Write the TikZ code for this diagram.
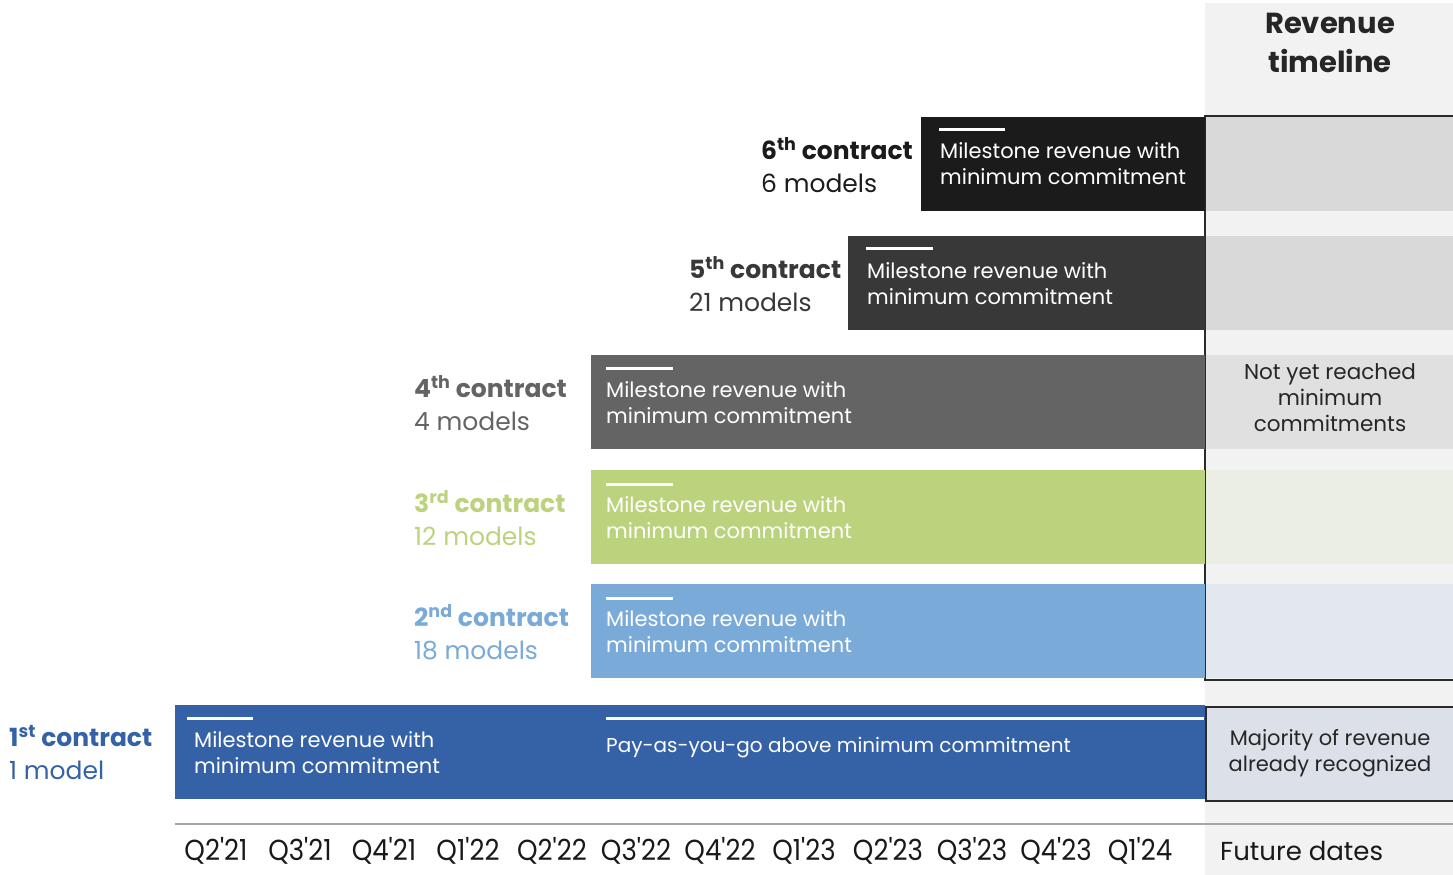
\documentclass[tikz,border=0pt]{standalone}
\usepackage{fontspec}
\setmainfont{Poppins}
\newfontfamily\narrowfont[FakeStretch=0.9]{Poppins}
\begin{document}
\definecolor{cA}{HTML}{1B1B1B}
\definecolor{cB}{HTML}{383838}
\definecolor{cC}{HTML}{646464}
\definecolor{cD}{HTML}{BCD37E}
\definecolor{cE}{HTML}{7AAAD8}
\definecolor{cF}{HTML}{3562A7}
\definecolor{colbg}{HTML}{F2F2F2}
\definecolor{bandgray}{HTML}{D9D9D9}
\definecolor{bandmid}{HTML}{E0E0E0}
\definecolor{bandgreen}{HTML}{EBEEE4}
\definecolor{bandblue}{HTML}{E3E8F0}
\definecolor{donebox}{HTML}{DCE0E8}
\definecolor{frame}{HTML}{2B2B2B}
\definecolor{axis}{HTML}{A6A6A6}
\newcommand{\ap}{\symbol{39}}
\begin{tikzpicture}[x=1pt,y=-1pt,
  bar/.style={anchor=north west,minimum height=94pt,inner sep=0pt,draw=none},
  bartext/.style={anchor=west,align=left,text=white,font=\fontsize{21}{26}\selectfont,inner sep=0pt},
  tick/.style={draw=white,line width=3.2pt},
  lbl/.style={anchor=west,align=left,font=\fontsize{25}{33}\selectfont,inner sep=0pt},
  band/.style={anchor=north west,minimum width=248pt,minimum height=94pt,inner sep=0pt,draw=none},
  quarter/.style={font=\narrowfont\fontsize{29}{30}\selectfont,inner sep=0pt,text=black!90},
  note/.style={align=center,font=\fontsize{21.5}{26}\selectfont,text=black!85,inner sep=0pt}]
\useasboundingbox (0,0) rectangle (1453,875);
\fill[white] (0,0) rectangle (1453,875);

% timeline column
\fill[colbg] (1205,3) rectangle (1453,875);
\node[align=center,font=\bfseries\fontsize{29}{39}\selectfont,text=black!85] (head) at (1330,43) {Revenue\\timeline};

% column bands
\node[band,fill=bandgray] (b6) at (1206,117) {};
\node[band,fill=bandgray] (b5) at (1206,236) {};
\node[band,fill=bandmid] (b4) at (1206,355) {};
\node[band,fill=bandgreen] (b3) at (1206,470) {};
\node[band,fill=bandblue] (b2) at (1206,584) {};
\node[note] (nyr) at (1330,398) {Not yet reached\\minimum\\commitments};
\draw[frame,line width=2.2pt] (1205,116) rectangle (1458,680);
\node[anchor=north west,minimum width=252pt,minimum height=94pt,inner sep=0pt,fill=donebox,draw=frame,line width=2.2pt] (b1) at (1205,706) {};
\node[note,font=\fontsize{21}{26}\selectfont] (maj) at (1330,753) {Majority of revenue\\already recognized};

% contract bars
\node[bar,fill=cA,minimum width=284pt] (r6) at (921,117) {};
\node[bar,fill=cB,minimum width=357pt] (r5) at (848,236) {};
\node[bar,fill=cC,minimum width=614pt] (r4) at (591,355) {};
\node[bar,fill=cD,minimum width=614pt] (r3) at (591,470) {};
\node[bar,fill=cE,minimum width=614pt] (r2) at (591,584) {};
\node[bar,fill=cF,minimum width=1030pt] (r1) at (175,705) {};

% white tick marks along the top of each bar
\draw[tick] (939,129.5) -- (1005,129.5);
\draw[tick] (866,248.5) -- (933,248.5);
\draw[tick] (606,368.5) -- (673,368.5);
\draw[tick] (606,484.5) -- (673,484.5);
\draw[tick] (606,598.5) -- (673,598.5);
\draw[tick] (187,718.5) -- (253,718.5);
\draw[tick] (606,718.5) -- (1204,718.5);

% bar texts
\node[bartext] (t6) at (940,164) {Milestone revenue with\\minimum commitment};
\node[bartext] (t5) at (867,284) {Milestone revenue with\\minimum commitment};
\node[bartext] (t4) at (606,403) {Milestone revenue with\\minimum commitment};
\node[bartext] (t3) at (606,518) {Milestone revenue with\\minimum commitment};
\node[bartext] (t2) at (606,632) {Milestone revenue with\\minimum commitment};
\node[bartext] (t1) at (194,753) {Milestone revenue with\\minimum commitment};
\node[bartext,font=\fontsize{20}{26}\selectfont] (t1b) at (606,748) {Pay-as-you-go above minimum commitment};

% contract labels
\node[lbl,text=cA] (l6) at (761,165) {\textbf{6\textsuperscript{th} contract}\\6 models};
\node[lbl,text=cB] (l5) at (689,284) {\textbf{5\textsuperscript{th} contract}\\21 models};
\node[lbl,text=cC] (l4) at (414,403) {\textbf{4\textsuperscript{th} contract}\\4 models};
\node[lbl,text=cD] (l3) at (414,518) {\textbf{3\textsuperscript{rd} contract}\\12 models};
\node[lbl,text=cE] (l2) at (414,632) {\textbf{2\textsuperscript{nd} contract}\\18 models};
\node[lbl,text=cF] (l1) at (9,753) {\textbf{1\textsuperscript{st} contract}\\1 model};

% time axis
\coordinate (ax0) at (175,824);
\coordinate (ax1) at (1453,824);
\draw[axis,line width=1.5pt] (ax0) -- (ax1);
\foreach \q/\y [count=\i from 0] in {Q2/21,Q3/21,Q4/21,Q1/22,Q2/22,Q3/22,Q4/22,Q1/23,Q2/23,Q3/23,Q4/23,Q1/24}
  \node[quarter] (q\i) at (216+84*\i,851) {\q\ap\y};
\node[anchor=west,font=\fontsize{26}{30}\selectfont,inner sep=0pt,text=black!90] (fut) at (1220,851) {Future dates};
\end{tikzpicture}
\end{document}
